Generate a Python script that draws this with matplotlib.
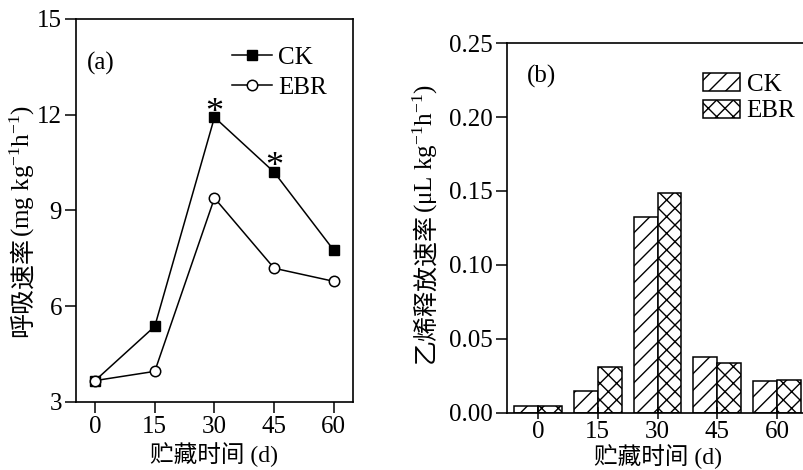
import matplotlib

matplotlib.use("Agg")

import matplotlib.pyplot as plt
import numpy as np

plt.rcParams["font.family"] = ["Liberation Serif", "Noto Sans CJK SC"]
plt.rcParams["mathtext.fontset"] = "custom"
plt.rcParams["mathtext.rm"] = "Liberation Serif"
plt.rcParams["mathtext.default"] = "rm"
plt.rcParams["hatch.linewidth"] = 1.0

# storage days
days = [0, 15, 30, 45, 60]

# (a) respiration rate, mg kg-1 h-1
resp_ck = [3.67, 5.37, 11.92, 10.2, 7.75]
resp_ebr = [3.67, 3.96, 9.39, 7.19, 6.78]
star_days = [30, 45]
star_levels = [12.03, 10.36]

# (b) ethylene release rate, uL kg-1 h-1
eth_ck = [0.0045, 0.015, 0.1326, 0.0375, 0.0218]
eth_ebr = [0.0045, 0.0308, 0.1484, 0.0337, 0.0225]

FS = 18


def two_part_ylabel(ax, cjk, unit, x, y0):
    """Rotated y label: CJK words in the text font, unit part in mathtext."""
    first = ax.text(x, y0, cjk, transform=ax.transAxes, rotation=90,
                    ha="center", va="bottom", fontsize=FS)
    ax.annotate(unit, xy=(0.5, 1.0), xycoords=first, rotation=90,
                ha="center", va="bottom", fontsize=FS)


fig = plt.figure(figsize=(8.04, 4.70), dpi=100)

# ---- panel (a)
ax1 = fig.add_axes([0.0945, 0.1447, 0.3445, 0.8149])
ax1.plot(days, resp_ck, color="black", lw=1.1, marker="s", ms=7.5,
         mfc="black", mec="black", label="CK")
ax1.plot(days, resp_ebr, color="black", lw=1.1, marker="o", ms=7.5,
         mfc="white", mec="black", mew=1.1, label="EBR")
for d, lvl in zip(star_days, star_levels):
    ax1.text(d, lvl, "*", ha="center", va="center", fontsize=26)
ax1.set_xlim(-4.8, 64.8)
ax1.set_ylim(3, 15)
ax1.set_xticks(days)
ax1.set_yticks([3, 6, 9, 12, 15])
ax1.tick_params(labelsize=FS, direction="out", length=8, width=1.1, pad=2)
ax1.set_xlabel("贮藏时间 (d)", fontsize=FS - 1, labelpad=3)
two_part_ylabel(ax1, "呼吸速率", "(mg kg$^{-1}$h$^{-1}$)", -0.193, 0.17)
ax1.text(0.04, 0.885, "(a)", transform=ax1.transAxes, fontsize=FS,
         ha="left", va="center")
ax1.legend(loc="upper left", bbox_to_anchor=(0.563, 0.929), frameon=False,
           fontsize=FS, handlelength=1.6, handletextpad=0.25, labelspacing=0.3,
           borderpad=0.0, borderaxespad=0.0)
for sp in ax1.spines.values():
    sp.set_linewidth(1.2)

# ---- panel (b)
ax2 = fig.add_axes([0.6306, 0.1213, 0.3744, 0.7872])
x = np.array(days, dtype=float)
w = 6.0
ax2.bar(x - w / 2, eth_ck, width=w, facecolor="white", edgecolor="black",
        hatch="//", lw=1.1, label="CK")
ax2.bar(x + w / 2, eth_ebr, width=w, facecolor="white", edgecolor="black",
        hatch="xx", lw=1.1, label="EBR")
ax2.set_xlim(-7.75, 67.75)
ax2.set_ylim(0, 0.25)
ax2.set_xticks(days)
ax2.set_yticks([0, 0.05, 0.10, 0.15, 0.20, 0.25])
ax2.set_yticklabels(["0.00", "0.05", "0.10", "0.15", "0.20", "0.25"])
ax2.tick_params(labelsize=FS, length=8, width=1.1, pad=2)
ax2.tick_params(axis="x", direction="inout", length=9, pad=1)
ax2.tick_params(axis="y", direction="out")
ax2.set_xlabel("贮藏时间 (d)", fontsize=FS - 1, labelpad=1)
two_part_ylabel(ax2, "乙烯释放速率", "(μL kg$^{-1}$h$^{-1}$)", -0.272, 0.135)
ax2.text(0.065, 0.91, "(b)", transform=ax2.transAxes, fontsize=FS,
         ha="left", va="center")
ax2.legend(loc="upper left", bbox_to_anchor=(0.651, 0.919), frameon=False,
           fontsize=FS, handlelength=1.5, handleheight=0.75, handletextpad=0.25,
           labelspacing=0.15, borderpad=0.0, borderaxespad=0.0)
for sp in ax2.spines.values():
    sp.set_linewidth(1.2)

fig.savefig("out.png", dpi=100)
